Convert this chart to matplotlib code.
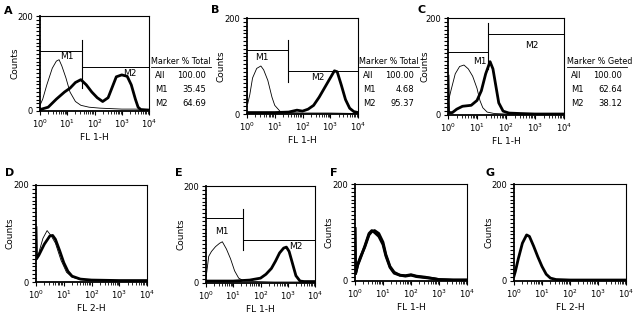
import numpy as np
import matplotlib
matplotlib.use('Agg')
import matplotlib.pyplot as plt
from matplotlib.ticker import FixedLocator, NullFormatter, LogLocator

plt.rcParams['font.family'] = 'DejaVu Sans'

# histogram traces: x as log10(channel), y as counts
a_thin_x = [0.0, 0.1, 0.25, 0.45, 0.6, 0.7, 0.8, 0.95, 1.1, 1.3, 1.5, 1.8, 2.2, 2.6, 3.0, 3.5, 4.0]
a_thin_y = [12, 25, 55, 90, 105, 108, 95, 70, 40, 20, 12, 8, 6, 5, 4, 4, 3]
a_thick_x = [0.0, 0.3, 0.6, 0.9, 1.1, 1.3, 1.5, 1.7, 1.9, 2.1, 2.3, 2.5, 2.65, 2.8, 3.0, 3.2, 3.35, 3.5, 3.6, 3.7, 4.0]
a_thick_y = [3, 8, 25, 40, 48, 60, 66, 55, 40, 28, 20, 28, 50, 72, 76, 73, 55, 25, 8, 3, 2]

b_thin_x = [0.0, 0.02, 0.1, 0.2, 0.35, 0.5, 0.6, 0.75, 0.9, 1.0, 1.2, 1.5, 2.0, 3.0, 4.0]
b_thin_y = [105, 20, 40, 75, 95, 100, 92, 70, 35, 18, 5, 3, 2, 2, 1]
b_thick_x = [0.0, 0.5, 1.0, 1.5, 1.8, 2.0, 2.2, 2.4, 2.6, 2.8, 3.0, 3.15, 3.25, 3.4, 3.55, 3.7, 3.85, 4.0]
b_thick_y = [3, 3, 3, 4, 8, 6, 10, 18, 35, 55, 75, 90, 88, 60, 30, 12, 5, 3]

c_thin_x = [0.0, 0.1, 0.25, 0.4, 0.55, 0.7, 0.85, 1.0, 1.1, 1.2, 1.35, 1.6, 2.0, 3.0, 4.0]
c_thin_y = [25, 50, 85, 100, 103, 95, 80, 55, 30, 15, 6, 3, 2, 2, 1]
c_thick_x = [0.0, 0.02, 0.15, 0.3, 0.5, 0.8, 1.0, 1.15, 1.3, 1.45, 1.55, 1.65, 1.75, 1.9, 2.1, 2.5, 3.0, 4.0]
c_thick_y = [80, 5, 5, 12, 18, 20, 30, 50, 85, 110, 95, 60, 25, 8, 4, 3, 2, 2]

d_thin_x = [0.0, 0.02, 0.1, 0.25, 0.4, 0.55, 0.7, 0.9, 1.1, 1.3, 1.6, 2.0, 3.0, 4.0]
d_thin_y = [112, 45, 60, 90, 106, 95, 80, 45, 20, 10, 5, 3, 2, 2]
d_thick_x = [0.0, 0.02, 0.1, 0.3, 0.5, 0.6, 0.7, 0.85, 1.0, 1.15, 1.3, 1.6, 2.0, 3.0, 4.0]
d_thick_y = [112, 48, 55, 78, 95, 96, 88, 65, 40, 22, 12, 6, 4, 3, 3]

e_thin_x = [0.0, 0.1, 0.2, 0.35, 0.5, 0.6, 0.75, 0.9, 1.05, 1.2, 1.4, 1.8, 2.5, 4.0]
e_thin_y = [10, 55, 65, 75, 82, 85, 70, 50, 25, 10, 4, 3, 2, 2]
e_thick_x = [0.0, 1.0, 1.6, 2.0, 2.2, 2.4, 2.55, 2.7, 2.85, 2.95, 3.05, 3.15, 3.3, 3.45, 3.6, 4.0]
e_thick_y = [4, 4, 6, 10, 18, 30, 45, 62, 72, 74, 65, 45, 15, 4, 3, 3]

f_x = [0.0, 0.02, 0.1, 0.2, 0.35, 0.5, 0.6, 0.7, 0.85, 1.0, 1.1, 1.25, 1.4, 1.6, 1.8, 2.0, 2.2, 2.5, 2.8, 3.0, 3.5, 4.0]
f_y = [108, 15, 35, 50, 70, 95, 102, 104, 98, 80, 55, 30, 18, 12, 11, 13, 10, 8, 5, 3, 2, 2]
f2_y = [108, 15, 33, 48, 72, 98, 104, 100, 92, 75, 52, 28, 16, 12, 10, 12, 9, 7, 5, 3, 2, 2]

g_x = [0.0, 0.05, 0.15, 0.3, 0.45, 0.55, 0.7, 0.85, 1.0, 1.15, 1.3, 1.5, 2.0, 3.0, 4.0]
g_y = [10, 20, 45, 78, 95, 92, 72, 50, 30, 14, 6, 3, 2, 2, 2]

# marker gates: (name, start, end, height, label x, label y)
a_gates = [('M1', 0.0, 1.54, 127, 1.0, 114), ('M2', 1.54, 4.0, 93, 3.3, 80)]
b_gates = [('M1', 0.0, 1.46, 133, 0.55, 118), ('M2', 1.46, 4.0, 90, 2.55, 76)]
c_gates = [('M1', 0.0, 1.37, 130, 1.1, 110), ('M2', 1.37, 4.0, 167, 2.9, 144)]
e_gates = [('M1', 0.0, 1.35, 135, 0.6, 106), ('M2', 1.35, 4.0, 89, 3.3, 75)]
a_split = (1.54, 48, 150)
b_split = (1.46, 67, 154)
c_split = (1.37, 95, 189)
e_split = (1.35, 68, 152)

a_table = ('Marker % Total', [('All', '100.00'), ('M1', '35.45'), ('M2', '64.69')])
b_table = ('Marker % Total', [('All', '100.00'), ('M1', '4.68'), ('M2', '95.37')])
c_table = ('Marker % Geted', [('All', '100.00'), ('M1', '62.64'), ('M2', '38.12')])

W, H = 642, 321
fig = plt.figure(figsize=(W / 100, H / 100), dpi=100)


def make_ax(l, r, t, b, letter, lpos, xlabel, ylab_off=21):
    ax = fig.add_axes([l / W, 1 - b / H, (r - l) / W, (b - t) / H])
    ax.set_xscale('log')
    ax.set_xlim(1, 1e4)
    ax.set_ylim(0, 200)
    ax.set_yticks([0, 200])
    ax.yaxis.set_minor_locator(FixedLocator(np.arange(0, 201, 8)))
    ax.xaxis.set_major_locator(LogLocator(base=10, numticks=10))
    ax.xaxis.set_minor_locator(LogLocator(base=10, subs=np.arange(2, 10), numticks=10))
    ax.xaxis.set_minor_formatter(NullFormatter())
    ax.tick_params(which='major', length=3, width=0.8, labelsize=6, pad=2)
    ax.tick_params(which='minor', length=2, width=0.6)
    ax.tick_params(axis='y', which='minor', length=3, width=0.8)
    for s in ax.spines.values():
        s.set_linewidth(0.8)
    ax.spines['left'].set_linewidth(1.3)
    ax.spines['bottom'].set_linewidth(1.3)
    ax.set_ylabel('Counts', fontsize=6.5)
    ax.yaxis.set_label_coords(-ylab_off / (r - l), 0.5)
    ax.set_xlabel(xlabel, fontsize=6.5, labelpad=2)
    fig.text(lpos[0] / W, 1 - lpos[1] / H, letter, fontsize=8, fontweight='bold',
             va='center', ha='left')
    return ax


def curve(ax, xs, ys, lw):
    ax.plot(10 ** np.array(xs), ys, color='black', lw=lw, solid_joinstyle='round')


def gates(ax, gl, split):
    for name, x0, x1, h, lx, ly in gl:
        ax.plot([10 ** x0, 10 ** x1], [h, h], color='black', lw=0.7)
        ax.text(10 ** lx, ly, name, fontsize=6.5, ha='center', va='center')
    sx, y0, y1 = split
    ax.plot([10 ** sx, 10 ** sx], [y0, y1], color='black', lw=0.8)


def table(x, y, tab):
    head, rows = tab
    fig.text(x / W, 1 - y / H, head, fontsize=5.8, va='center', ha='left')
    fig.add_artist(plt.Line2D([x / W, (x + 60) / W], [1 - (y + 5) / H] * 2,
                              color='black', lw=0.6))
    for i, (k, v) in enumerate(rows):
        yy = 1 - (y + 14 * (i + 1)) / H
        fig.text((x + 4) / W, yy, k, fontsize=6.0, va='center', ha='left')
        fig.text((x + 55) / W, yy, v, fontsize=6.0, va='center', ha='right')


axA = make_ax(40, 149, 16, 111, 'A', (4, 11), 'FL 1-H')
curve(axA, a_thin_x, a_thin_y, 0.6)
curve(axA, a_thick_x, a_thick_y, 2.0)
gates(axA, a_gates, a_split)
table(151, 62, a_table)

axB = make_ax(247, 358, 18, 114, 'B', (211, 10), 'FL 1-H')
curve(axB, b_thin_x, b_thin_y, 0.6)
curve(axB, b_thick_x, b_thick_y, 2.0)
gates(axB, b_gates, b_split)
table(359, 62, b_table)

axC = make_ax(448, 564, 18, 115, 'C', (418, 10), 'FL 1-H', ylab_off=18)
curve(axC, c_thin_x, c_thin_y, 0.6)
curve(axC, c_thick_x, c_thick_y, 2.0)
gates(axC, c_gates, c_split)
table(567, 62, c_table)

axD = make_ax(36, 147, 185, 282, 'D', (5, 173), 'FL 2-H')
curve(axD, d_thin_x, d_thin_y, 0.6)
curve(axD, d_thick_x, d_thick_y, 2.0)

axE = make_ax(206, 315, 186, 283, 'E', (175, 173), 'FL 1-H')
curve(axE, e_thin_x, e_thin_y, 0.6)
curve(axE, e_thick_x, e_thick_y, 2.0)
gates(axE, e_gates, e_split)

axF = make_ax(355, 467, 184, 281, 'F', (330, 173), 'FL 1-H')
curve(axF, f_x, f_y, 2.0)
curve(axF, f_x, f2_y, 2.0)

axG = make_ax(514, 626, 184, 281, 'G', (485, 173), 'FL 2-H')
curve(axG, g_x, g_y, 2.0)

fig.savefig('out.png', dpi=100)
